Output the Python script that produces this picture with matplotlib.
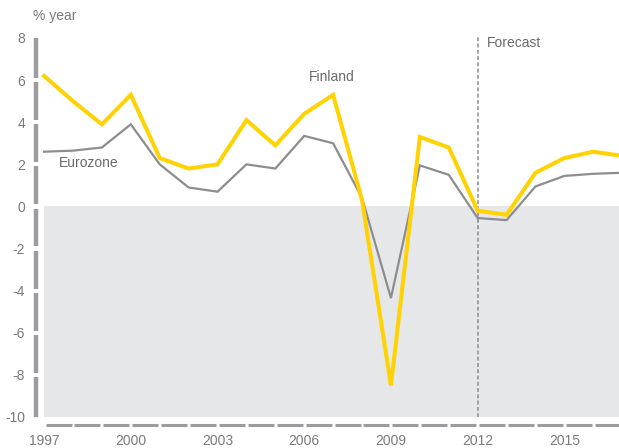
import numpy as np
import matplotlib
matplotlib.use("Agg")
import matplotlib.pyplot as plt
import matplotlib.transforms as mtransforms

plt.rcParams['font.family'] = ['Liberation Sans', 'DejaVu Sans']

# GDP growth, % per year
years = list(range(1997, 2018))
finland = [6.2, 5.0, 3.9, 5.3, 2.3, 1.8, 2.0, 4.1, 2.9, 4.4, 5.3, 0.3,
           -8.5, 3.3, 2.8, -0.2, -0.4, 1.6, 2.3, 2.6, 2.4]
eurozone = [2.6, 2.65, 2.8, 3.9, 2.0, 0.9, 0.7, 2.0, 1.8, 3.35, 3.0, 0.4,
            -4.35, 1.95, 1.5, -0.55, -0.65, 0.95, 1.45, 1.55, 1.6]
ytick_vals = [8, 6, 4, 2, 0, -2, -4, -6, -8, -10]
xtick_vals = [1997, 2000, 2003, 2006, 2009, 2012, 2015]
forecast_year = 2012

yellow = '#FFD200'
line_gray = '#8d8d8f'
axis_gray = '#9c9c9e'
shade = '#e6e7e8'
txt = '#7a7a7c'
lab = '#6a6a6c'

fig = plt.figure(figsize=(6.19, 4.48), dpi=100)
ax = fig.add_axes([36/619, 31/448, 583/619, 379/448])
ax.set_xlim(1996.72, 2016.89)
ax.set_ylim(-10, 8)
for s in ax.spines.values():
    s.set_visible(False)

# shaded negative region
ax.fill_between([1997, 2018], -10, 0, color=shade, lw=0, zorder=0)

# forecast divider
ax.plot([forecast_year, forecast_year], [-10, 8.05], color='#8a8a8c', lw=1.1,
        ls=(0, (2.5, 1.6)), zorder=1, clip_on=False)

ax.plot(years, eurozone, color=line_gray, lw=1.6, zorder=2, solid_joinstyle='miter')
ax.plot(years, finland, color=yellow, lw=2.9, zorder=3, solid_joinstyle='miter')

# segmented y axis bar
trans_y = mtransforms.blended_transform_factory(ax.transAxes, ax.transData)
for hi in range(8, -10, -2):
    top = hi - (0.1 if hi != 8 else 0)
    bot = hi - 2 + (0.1 if hi - 2 != -10 else 0)
    ax.plot([0, 0], [bot, top], color=axis_gray, lw=3.2, transform=trans_y,
            clip_on=False, solid_capstyle='butt')

# segmented x axis line
trans_x = mtransforms.blended_transform_factory(ax.transData, ax.transAxes)
yx = -8 / 379
for yr in range(1997, 2017):
    ax.plot([yr + 0.05, yr + 0.95], [yx, yx], color=axis_gray, lw=2.2,
            transform=trans_x, clip_on=False, solid_capstyle='butt')

ax.set_yticks(ytick_vals)
ax.set_yticklabels([str(v) for v in ytick_vals])
ax.set_xticks(xtick_vals)
ax.set_xticklabels([str(v) for v in xtick_vals])
ax.tick_params(axis='y', length=0, pad=8, labelsize=10, labelcolor=txt)
ax.tick_params(axis='x', length=0, pad=12.5, labelsize=10, labelcolor=txt)

fig.text(33/619, 1 - 16/448, '% year', fontsize=10, color=txt, va='center', ha='left')
ax.text(1997.52, 2.04, 'Eurozone', fontsize=10, color=lab, va='center', ha='left')
ax.text(2006.17, 6.16, 'Finland', fontsize=10, color=lab, va='center', ha='left')
ax.text(2012.33, 7.77, 'Forecast', fontsize=10, color=lab, va='center', ha='left')

fig.savefig('out.png', dpi=100)
